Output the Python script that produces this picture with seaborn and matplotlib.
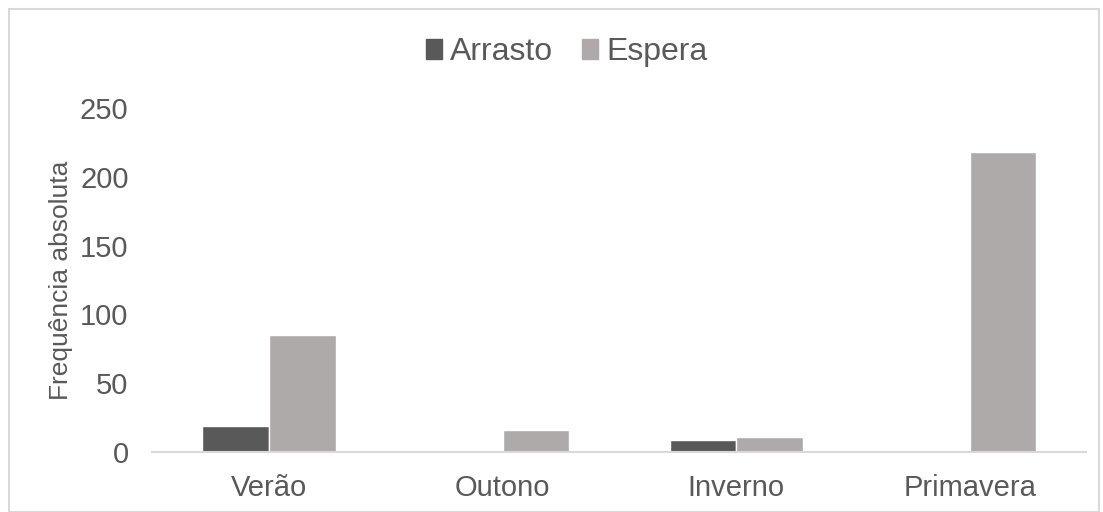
import pandas as pd
import matplotlib
matplotlib.use("Agg")
import matplotlib.pyplot as plt
import seaborn as sns
from matplotlib.patches import Rectangle

estacoes = ["Verão", "Outono", "Inverno", "Primavera"]
arrasto = [19, 0, 9, 0]
espera = [85, 16, 11, 218]
series = ["Arrasto", "Espera"]
cores = ["#595959", "#AEAAAA"]
y_ticks = [0, 50, 100, 150, 200, 250]

df = pd.DataFrame({
    "Estação": estacoes * 2,
    "Arte": ["Arrasto"] * 4 + ["Espera"] * 4,
    "Frequência": arrasto + espera,
})

sns.set_style("white")
plt.rcParams["font.family"] = ["Liberation Sans", "DejaVu Sans"]
texto = "#595959"

fig = plt.figure(figsize=(11.03, 5.12), dpi=100)
ax = fig.add_axes([0.138, 0.117, 0.847, 0.672])

sns.barplot(data=df, x="Estação", y="Frequência", hue="Arte",
            hue_order=series, palette=cores, width=0.57, saturation=1,
            ax=ax, legend=False)

ax.set_ylim(0, 250)
ax.set_yticks(y_ticks)
ax.set_xlim(-0.5, 3.5)
ax.set_xlabel("")
ax.set_ylabel("Frequência absoluta", fontsize=19, color=texto, labelpad=5)
ax.tick_params(axis="both", labelsize=21, colors=texto, length=0)
ax.tick_params(axis="x", pad=16)
ax.tick_params(axis="y", pad=17)
for s in ["top", "right", "left"]:
    ax.spines[s].set_visible(False)
ax.spines["bottom"].set_color("#D9D9D9")
ax.spines["bottom"].set_linewidth(1.5)

handles = [Rectangle((0, 0), 1, 1, color=c) for c in cores]
fig.legend(handles, series, loc="center", bbox_to_anchor=(0.514, 0.898),
           ncol=2, frameon=False, fontsize=23, labelcolor=texto,
           handlelength=0.5, handleheight=0.56, handletextpad=0.25,
           columnspacing=0.9, borderpad=0)

fig.patches.append(Rectangle((0.008, 0.0), 0.988, 0.982, transform=fig.transFigure,
                             fill=False, edgecolor="#D9D9D9", linewidth=1.5))

fig.savefig("out.png", dpi=100)
